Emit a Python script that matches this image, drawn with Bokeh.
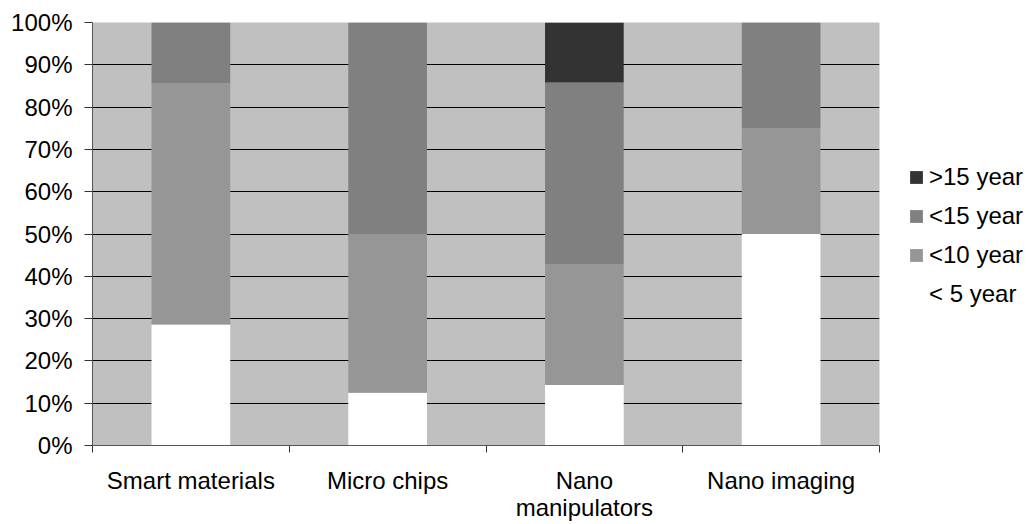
from bokeh.plotting import figure
from bokeh.models import (ColumnDataSource, FixedTicker, Legend, LegendItem,
                          PrintfTickFormatter, Range1d)
from bokeh.embed import file_html
from bokeh.resources import INLINE

categories = ["Smart materials", "Micro chips", "Nano\nmanipulators", "Nano imaging"]
series_names = ["< 5 year", "<10 year", "<15 year", ">15 year"]
lt5 = [28.6, 12.5, 14.3, 50.0]
lt10 = [57.1, 37.5, 28.6, 25.0]
lt15 = [14.3, 50.0, 42.9, 25.0]
gt15 = [0.0, 0.0, 14.3, 0.0]
colors = ["#FFFFFF", "#969696", "#808080", "#333333"]
y_ticks = list(range(0, 101, 10))

FONT = "Liberation Sans"
FS = "24px"

xc = [i + 0.5 for i in range(len(categories))]
src = ColumnDataSource(dict(x=xc, s0=lt5, s1=lt10, s2=lt15, s3=gt15))

p = figure(width=None, height=None, frame_width=787, frame_height=423,
           output_backend="svg", toolbar_location=None,
           x_range=Range1d(0, len(categories)), y_range=Range1d(0, 100),
           min_border_left=92, min_border_right=155, min_border_top=22,
           min_border_bottom=79)
p.background_fill_color = "#C0C0C0"
p.border_fill_color = "white"
p.outline_line_color = None

renderers = p.vbar_stack(["s0", "s1", "s2", "s3"], x="x", width=0.4, source=src,
                         fill_color=colors, line_color=None)

# grid
p.xgrid.visible = False
p.ygrid.ticker = FixedTicker(ticks=y_ticks)
p.ygrid.grid_line_color = "black"
p.ygrid.grid_line_width = 1

# y axis
p.yaxis.ticker = FixedTicker(ticks=y_ticks)
p.yaxis.formatter = PrintfTickFormatter(format="%d%%")
p.yaxis.major_tick_out = 8
p.yaxis.major_tick_in = 0
p.yaxis.minor_tick_line_color = None
p.yaxis.axis_line_color = "#555555"
p.yaxis.major_tick_line_color = "#333333"
p.yaxis.major_label_text_font = FONT
p.yaxis.major_label_text_font_size = FS
p.yaxis.major_label_text_color = "black"
p.yaxis.major_label_standoff = 12

# x axis
p.xaxis.ticker = FixedTicker(ticks=xc, minor_ticks=list(range(len(categories) + 1)))
p.xaxis.major_label_overrides = {x: c for x, c in zip(xc, categories)}
p.xaxis.major_tick_out = 0
p.xaxis.major_tick_in = 0
p.xaxis.minor_tick_out = 7
p.xaxis.minor_tick_in = 0
p.xaxis.minor_tick_line_color = "#333333"
p.xaxis.axis_line_color = "#555555"
p.xaxis.major_label_text_font = FONT
p.xaxis.major_label_text_font_size = FS
p.xaxis.major_label_text_color = "black"
p.xaxis.major_label_text_line_height = 1.0
p.xaxis.major_label_standoff = 14

items = [LegendItem(label=series_names[i], renderers=[renderers[i]]) for i in range(3, -1, -1)]
legend = Legend(items=items, location=(29, 137))
legend.border_line_color = None
legend.background_fill_alpha = 0
legend.padding = 0
legend.margin = 0
legend.glyph_width = 16
legend.glyph_height = 16
legend.label_standoff = 5
legend.spacing = 11
legend.label_text_font = FONT
legend.label_text_font_size = FS
legend.label_text_color = "black"
p.add_layout(legend, "right")

open("out.html", "w").write(file_html(p, INLINE))
